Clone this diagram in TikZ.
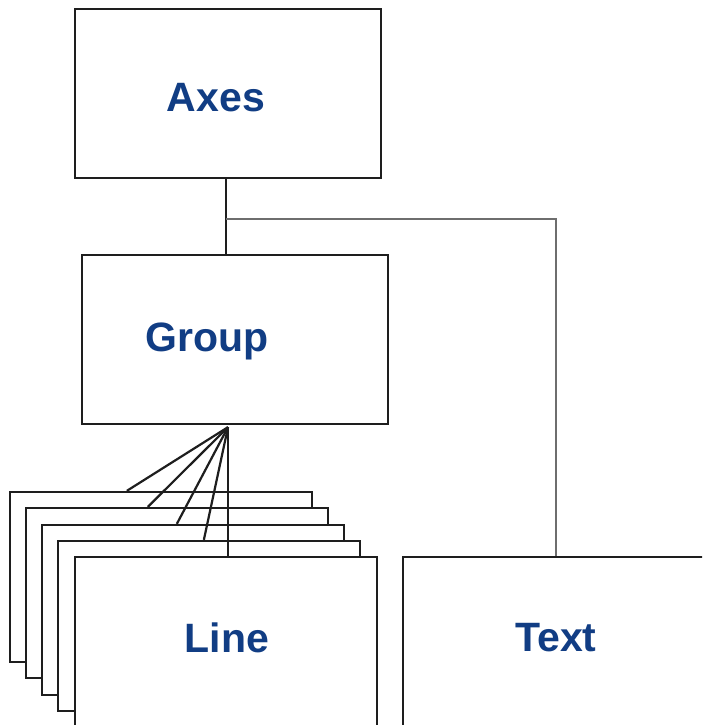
\documentclass[tikz,border=0pt]{standalone}
\usepackage{fontspec}
\setmainfont{Liberation Sans}
\usetikzlibrary{calc}
\definecolor{labelblue}{RGB}{17,61,132}
\definecolor{edge}{RGB}{30,30,30}
\definecolor{thinedge}{RGB}{110,110,110}
\tikzset{
  box/.style={draw=edge, line width=2.3pt, fill=white, rectangle, inner sep=0pt,
              minimum width=306pt, minimum height=169pt},
  linebox/.style={box, minimum width=302pt, minimum height=170pt},
  lbl/.style={text=labelblue, font=\bfseries\fontsize{41}{48}\selectfont, inner sep=0pt},
  conn/.style={draw=edge, line width=2.2pt},
  thinconn/.style={draw=thinedge, line width=1.4pt},
}
\begin{document}
\begin{tikzpicture}[x=1pt,y=-1pt]
\clip (0,0) rectangle (702,725);
\fill[white] (0,0) rectangle (702,725);
% main boxes
\node[box] (Axes) at (228,93.5) {};
\node[box] (Group) at (235,339.5) {};
% stacked line boxes
\node[linebox] (L1) at (161,577) {};
\node[linebox] (L2) at (177,593) {};
\node[linebox] (L3) at (193,610) {};
\node[linebox] (L4) at (209,626) {};
\node[linebox] (L5) at (226,642) {};
\node[linebox] (Text) at (554,642) {};
% labels
\node[lbl] (AxesLbl) at (216,98) {Axes};
\node[lbl] (GroupLbl) at (207,341) {Group};
\node[lbl] (LineLbl) at (227,638) {Line};
\node[lbl] (TextLbl) at (556,638) {Text};
% connectors
\coordinate (br) at ($(Axes.south)+(-2,40)$);
\draw[conn] ($(Axes.south)+(-2,0)$) -- ($(Group.north)+(-9,0)$);
\draw[thinconn] (br) -| ($(Text.north)+(2,0)$);
\coordinate (fan) at ($(Group.south)+(-7,2)$);
\draw[conn] (fan) -- ($(L1.north west)+(118,0)$);
\draw[conn] (fan) -- ($(L2.north west)+(123,0)$);
\draw[conn] (fan) -- ($(L3.north west)+(136,0)$);
\draw[conn] (fan) -- ($(L4.north west)+(147,0)$);
\draw[conn] (fan) -- (fan |- L5.north);
\end{tikzpicture}
\end{document}
